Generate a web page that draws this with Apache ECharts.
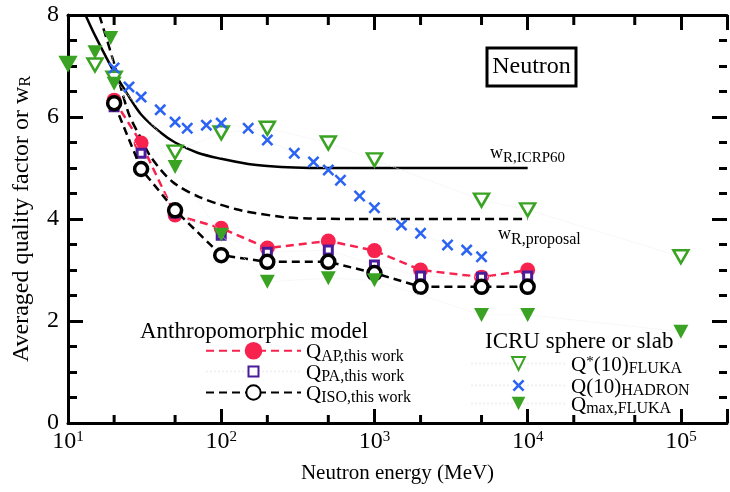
<!DOCTYPE html>
<html><head><meta charset="utf-8">
<script>
window.__errs = [];
function __report(msg) {
  window.__errs.push(String(msg));
  var d = document.getElementById('err');
  if (d) { d.textContent = window.__errs.join(' | ').slice(0, 600); d.style.display = 'block'; }
}
window.addEventListener('error', function (e) { __report('E:' + (e.message || e) + ' @' + (e.lineno || '')); });
(function () { var ce = console.error, cw = console.warn;
  console.error = function () { __report('CE:' + Array.prototype.join.call(arguments, ' ')); ce && ce.apply(console, arguments); };
  console.warn = function () { __report('CW:' + Array.prototype.join.call(arguments, ' ')); cw && cw.apply(console, arguments); };
})();
</script>
<script src="https://cdn.jsdelivr.net/npm/echarts@6/dist/echarts.min.js"></script>
<style>html,body{margin:0;padding:0;background:#fff}#c{width:730px;height:492px}
#err{display:none;position:absolute;left:300px;top:0;width:420px;font:10px sans-serif;color:#c00;background:rgba(255,255,255,0.8);z-index:9}</style>
</head><body><div id="c"></div><div id="err"></div>
<script>
// ---------- data ----------
const energyQ = [20, 30, 50, 100, 200, 500, 1000, 2000, 5000, 10000];
const qAP  = [6.33, 5.49, 4.08, 3.82, 3.43, 3.57, 3.38, 3.00, 2.86, 3.00];
const qPA  = [6.20, 5.29, 4.12, 3.68, 3.35, 3.39, 3.10, 2.88, 2.86, 2.88];
const qISO = [6.27, 4.98, 4.17, 3.29, 3.16, 3.16, 2.94, 2.67, 2.67, 2.67];

const energyICRP60 = [13, 15, 20, 25, 30, 40, 50, 70, 100, 150, 200, 300, 500, 1000, 2000, 5000, 10000];
const wICRP60      = [8.0, 7.6, 6.88, 6.4, 6.05, 5.7, 5.5, 5.3, 5.18, 5.08, 5.04, 5.01, 5.0, 5.0, 5.0, 5.0, 5.0];

const energyProposal = [16, 20, 25, 30, 35, 48, 72, 130, 250, 370, 1000, 10000];
const wProposal      = [8.0, 7.05, 6.05, 5.58, 5.2, 4.73, 4.43, 4.18, 4.04, 4.01, 4.0, 4.0];

const energyFluka = [10, 15, 20, 50, 100, 200, 500, 1000, 5000, 10000, 100000];
const qStarFluka  = [7.05, 7.02, 6.76, 5.31, 5.69, 5.78, 5.49, 5.16, 4.37, 4.18, 3.26];

const energyHadron = [20, 25, 30, 40, 50, 60, 80, 100, 150, 200, 300, 400, 500, 600, 800, 1000, 1500, 2000, 3000, 4000, 5000];
const qStarHadron  = [6.96, 6.59, 6.39, 6.14, 5.9, 5.78, 5.84, 5.88, 5.78, 5.55, 5.29, 5.12, 4.96, 4.76, 4.45, 4.22, 3.88, 3.72, 3.49, 3.39, 3.26];

const energyQmax = [10, 15, 19, 20, 50, 100, 200, 500, 1000, 5000, 10000, 100000];
const qMaxFluka  = [7.05, 7.27, 7.55, 6.65, 5.02, 3.69, 2.77, 2.84, 2.80, 2.12, 2.12, 1.79];

const xMajorTicks = [10, 100, 1000, 10000, 100000];
const xMinorTicks = [20, 50, 200, 500, 2000, 5000, 20000, 50000];
const yTickValues = [0, 2, 4, 6, 8];
const yMinorTicks = [0.5, 1, 1.5, 2.5, 3, 3.5, 4.5, 5, 5.5, 6.5, 7, 7.5];
const X_MIN = 10, X_MAX = 200000;

// ---------- style ----------
const FONT = '"Liberation Serif", serif';
const RED = '#f8224f', PURPLE = '#4a1c9c', GREEN = '#3aa323', BLUE = '#2b63f2', FAINT = '#f1f1f1';
const XPATH = 'path://M0,3 L3,0 L10,7 L17,0 L20,3 L13,10 L20,17 L17,20 L10,13 L3,20 L0,17 L7,10 Z';
const pair = (xs, ys) => xs.map((x, i) => [x, ys[i]]);

const chart = echarts.init(document.getElementById('c'));

const subRich = {
  q: {fontSize: 21, fontFamily: FONT, color: '#000', lineHeight: 17, verticalAlign: 'top'},
  st: {fontSize: 15, fontFamily: FONT, color: '#000', lineHeight: 12, verticalAlign: 'top'},
  p: {fontSize: 21, fontFamily: FONT, color: '#000', lineHeight: 17, verticalAlign: 'top'},
  s: {fontSize: 16, fontFamily: FONT, color: '#000', lineHeight: 14, padding: [6, 0, 0, 0], verticalAlign: 'top'}
};
const legendText = {
  QAP: '{q|Q}{s|AP,this work}',
  QPA: '{q|Q}{s|PA,this work}',
  QISO: '{q|Q}{s|ISO,this work}',
  QF: '{q|Q}{st|*}{p|(10)}{s|FLUKA}',
  QH: '{q|Q}{p|(10)}{s|HADRON}',
  QM: '{q|Q}{s|max,FLUKA}'
};
const legendSpec = [
  ['QAP', 205, 342, 22], ['QPA', 205, 363, 12.5], ['QISO', 205, 384, 18],
  ['QF', 470, 355, 16], ['QH', 470, 377, 15], ['QM', 470, 395, 17]
];

const annotations = [
  {type: 'rect', shape: {x: 487, y: 48, width: 89, height: 38}, style: {fill: '#fff', stroke: '#000', lineWidth: 3}, z: 10},
  {type: 'text', x: 531.5, y: 67, z: 11, style: {text: 'Neutron', font: '24px ' + FONT, fill: '#000', align: 'center', verticalAlign: 'middle'}},
  {type: 'text', x: 140, y: 332, z: 11, style: {text: 'Anthropomorphic model', font: '23px ' + FONT, fill: '#000', align: 'left', verticalAlign: 'middle'}},
  {type: 'text', x: 485, y: 342, z: 11, style: {text: 'ICRU sphere or slab', font: '23px ' + FONT, fill: '#000', align: 'left', verticalAlign: 'middle'}},
  {type: 'text', x: 490, y: 153.5, z: 11, style: {text: '{w|w}{s|R,ICRP60}', align: 'left', verticalAlign: 'middle',
    rich: {w: {fontSize: 18, fontFamily: FONT, fill: '#000', lineHeight: 18, verticalAlign: 'top'},
           s: {fontSize: 15, fontFamily: FONT, fill: '#000', lineHeight: 15, padding: [6, 0, 0, 0], verticalAlign: 'top'}}}},
  {type: 'text', x: 498, y: 234.5, z: 11, style: {text: '{w|w}{s|R,proposal}', align: 'left', verticalAlign: 'middle',
    rich: {w: {fontSize: 18, fontFamily: FONT, fill: '#000', lineHeight: 18, verticalAlign: 'top'},
           s: {fontSize: 16, fontFamily: FONT, fill: '#000', lineHeight: 15, padding: [6, 0, 0, 0], verticalAlign: 'top'}}}}
];

const TICK = () => ({color: '#000', width: 3});
const option = {
  animation: false,
  backgroundColor: '#fff',
  grid: {left: 68, top: 15, right: -1, bottom: 69},
  xAxis: [
    {
      type: 'log', logBase: 10, min: X_MIN, max: X_MAX, position: 'bottom',
      axisLine: {show: true, onZero: false, lineStyle: {color: '#000', width: 3}},
      splitLine: {show: false},
      axisTick: {show: true, inside: true, length: 14, lineStyle: TICK()},
      axisLabel: {
        margin: 7,
        formatter: function (v) {
          const e = Math.log10(v);
          if (Math.abs(e - Math.round(e)) > 1e-6) return '';
          return '{b|10}{s|' + Math.round(e) + '}';
        },
        rich: {
          b: {fontSize: 24, fontFamily: FONT, color: '#000', lineHeight: 24, padding: [3, 0, 0, 0], verticalAlign: 'bottom'},
          s: {fontSize: 15, fontFamily: FONT, color: '#000', lineHeight: 15, verticalAlign: 'top'}
        }
      },
      name: 'Neutron energy (MeV)', nameLocation: 'middle', nameGap: 40,
      nameTextStyle: {fontSize: 21, fontFamily: FONT, color: '#000'}
    },
    {
      type: 'log', logBase: 10, min: X_MIN, max: X_MAX, position: 'top',
      axisLine: {show: true, onZero: false, lineStyle: {color: '#000', width: 3}},
      splitLine: {show: false}, axisTick: {show: true, inside: true, length: 15, lineStyle: TICK()}, axisLabel: {show: false}
    }
  ],
  yAxis: [
    {
      type: 'value', min: yTickValues[0], max: yTickValues[yTickValues.length - 1], interval: 2, position: 'left',
      axisLine: {show: true, onZero: false, lineStyle: {color: '#000', width: 3}},
      splitLine: {show: false},
      axisTick: {show: true, inside: true, length: 15, lineStyle: TICK()},
      minorTick: {show: true, splitNumber: 4, length: 9, lineStyle: TICK()},
      axisLabel: {fontSize: 24, fontFamily: FONT, color: '#000', margin: 9},
      name: 'Averaged quality factor or {w|w}{r|R}', nameLocation: 'middle', nameGap: 34, nameRotate: 90,
      nameTextStyle: {fontSize: 24, fontFamily: FONT, color: '#000', lineHeight: 24,
        rich: {w: {fontSize: 24, fontFamily: FONT, color: '#000', lineHeight: 24},
               r: {fontSize: 16, fontFamily: FONT, color: '#000', lineHeight: 16, verticalAlign: 'bottom'}}}
    },
    {
      type: 'value', min: 0, max: 8, interval: 2, position: 'right',
      axisLine: {show: false, onZero: false}, splitLine: {show: false},
      axisTick: {show: true, inside: true, length: 15, lineStyle: TICK()},
      minorTick: {show: true, splitNumber: 4, length: 8, lineStyle: TICK()},
      axisLabel: {show: false}
    }
  ],
  legend: legendSpec.map(([n, l, t, h]) => ({
    data: [n], orient: 'vertical', left: l, top: t,
    itemWidth: 95, itemHeight: h, itemGap: 0, padding: 0, selectedMode: false,
    formatter: x => legendText[x], textStyle: {rich: subRich}
  })),
  graphic: annotations,
  series: [
    {name: 'ICRP60', type: 'line', data: pair(energyICRP60, wICRP60), showSymbol: false, smooth: 0.3,
     lineStyle: {color: '#000', width: 2.5}, z: 2},
    {name: 'proposal', type: 'line', data: pair(energyProposal, wProposal), showSymbol: false, smooth: 0.3,
     lineStyle: {color: '#000', width: 2.5, type: [9, 5]}, z: 2},
    {name: 'QAP', type: 'line', data: pair(energyQ, qAP), symbol: 'circle', symbolSize: 15,
     itemStyle: {color: RED}, lineStyle: {color: RED, width: 2.5, type: [8, 5]}, z: 3},
    {name: 'QPA', type: 'line', data: pair(energyQ, qPA), symbol: 'rect', symbolSize: 8,
     itemStyle: {color: '#fff', borderColor: PURPLE, borderWidth: 3}, lineStyle: {color: FAINT, width: 1, type: 'dotted'}, z: 4},
    {name: 'QISO', type: 'line', data: pair(energyQ, qISO), symbol: 'circle', symbolSize: 13,
     itemStyle: {color: '#fff', borderColor: '#000', borderWidth: 3.5}, lineStyle: {color: '#000', width: 2.5, type: [8, 5]}, z: 5},
    {name: 'QF', type: 'line', data: pair(energyFluka, qStarFluka), symbol: 'triangle', symbolRotate: 180, symbolSize: [15, 13],
     itemStyle: {color: '#fff', borderColor: GREEN, borderWidth: 2.5}, lineStyle: {color: FAINT, width: 1, type: 'dotted'}, z: 6},
    {name: 'QH', type: 'line', data: pair(energyHadron, qStarHadron), symbol: XPATH, symbolSize: 12,
     itemStyle: {color: BLUE}, lineStyle: {color: FAINT, width: 1, type: 'dotted'}, z: 6},
    {name: 'QM', type: 'line', data: pair(energyQmax, qMaxFluka), symbol: 'triangle', symbolRotate: 180, symbolSize: [15, 14],
     itemStyle: {color: GREEN}, lineStyle: {color: FAINT, width: 1, type: 'dotted'}, z: 6}
  ]
};
try { chart.setOption(option); } catch (e) { __report('setOption1: ' + e.message); }

// ---------- extra minor ticks at 2 and 5 of each decade, placed through the chart's own scale ----------
try {
  const px = v => chart.convertToPixel({xAxisIndex: 0}, v);
  const py = v => chart.convertToPixel({yAxisIndex: 0}, v);
  const yB = py(yTickValues[0]), yT = py(yTickValues[yTickValues.length - 1]);
  const tickEls = [];
  const seg = (a, b, c, d) => tickEls.push({type: 'line', z: 20, silent: true,
    shape: {x1: a, y1: b, x2: c, y2: d}, style: {stroke: '#000', lineWidth: 3}});
  xMinorTicks.forEach(v => { const x = px(v); seg(x, yB, x, yB - 8); seg(x, yT, x, yT + 10); });
  chart.setOption({graphic: annotations.concat(tickEls)});
} catch (e) { __report('ticks: ' + e.message); }
</script>
</body></html>
